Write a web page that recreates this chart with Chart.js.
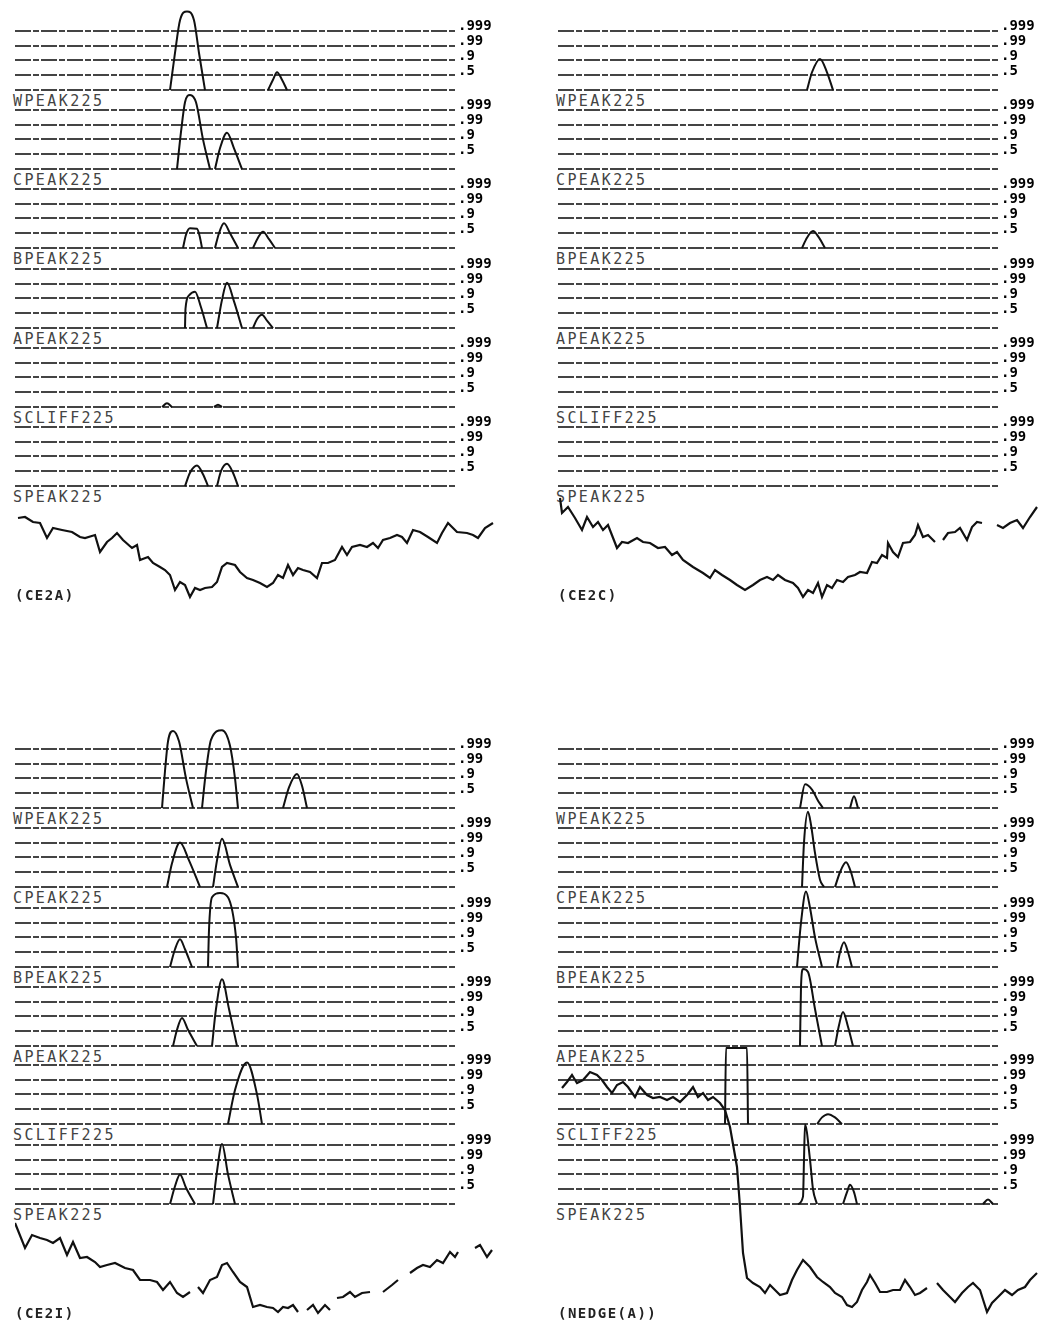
<!DOCTYPE html>
<html lang="en">
<head>
<meta charset="UTF-8">
<title>Peak detector strips</title>
<script src="https://cdn.jsdelivr.net/npm/chart.js"></script>
<style>
    body {
        margin: 0;
        width: 1041px;
        height: 1322px;
        overflow: hidden;
        position: relative;
        background: #fff;
        font-family: 'DejaVu Sans Mono', monospace;
    }
    canvas { position: absolute; }
    .strip-label {
        position: absolute;
        font-size: 15px;
        line-height: 1;
        letter-spacing: 2.4px;
        color: #444;
    }
    .panel-label {
        position: absolute;
        font-size: 14px;
        line-height: 1;
        font-weight: bold;
        letter-spacing: 1.5px;
        color: #222;
    }
</style>
</head>
<body>
<script>
// probability levels of the strip lines, baseline first
const probTicks = ['', '.5', '.9', '.99', '.999'];
const stripNames = ['WPEAK225', 'CPEAK225', 'BPEAK225', 'APEAK225', 'SCLIFF225', 'SPEAK225'];
const panelTitles = ['(CE2A)', '(CE2C)', '(CE2I)', '(NEDGE(A))'];

// peaks for each strip: [sample, level] vertices (level 0 = baseline, 4 = .999)
const ce2aPeaks = [
    [[[155,0],[160,2.5],[165,4.7],[172,5.3],[179,4.7],[184,2.5],[190,0]], [[253,0],[258,0.7],[262,1.2],[267,0.7],[272,0]]],
    [[[162,0],[166,2.5],[170,4.5],[175,5.0],[181,4.5],[188,2.0],[195,0]], [[200,0],[205,1.4],[212,2.45],[219,1.4],[227,0]]],
    [[[168,0],[171,0.9],[175,1.33],[182,1.3],[185,0.7],[187,0]], [[200,0],[204,1.0],[209,1.67],[215,1.0],[223,0]], [[238,0],[243,0.7],[248,1.1],[254,0.6],[260,0]]],
    [[[170,0],[170.5,1.3],[174,2.2],[180,2.45],[186,1.4],[192,0]], [[202,0],[207,1.9],[212,3.05],[219,1.8],[227,0]], [[238,0],[242,0.6],[247,0.9],[252,0.5],[258,0]]],
    [[[147,0],[152,0.25],[157,0]], [[199,0],[203,0.15],[207,0]]],
    [[[170,0],[175,0.9],[182,1.38],[188,0.8],[193,0]], [[202,0],[206,1.0],[212,1.5],[218,0.9],[223,0]]]
];
const ce2cPeaks = [
    [[[249,0],[254,1.2],[262,2.1],[269,1.2],[275,0]]],
    [],
    [[[244,0],[249,0.7],[255,1.15],[261,0.7],[267,0]]],
    [],
    [],
    []
];
const ce2iPeaks = [
    [[[147,0],[150,2.5],[153,4.5],[158,5.2],[164,4.5],[171,2.0],[178,0]], [[187,0],[191,2.5],[196,4.6],[207,5.25],[215,4.2],[220,2.0],[223,0]], [[268,0],[274,1.4],[282,2.3],[287,1.5],[292,0]]],
    [[[152,0],[157,1.6],[165,3.0],[174,1.8],[185,0]], [[198,0],[202,1.8],[207,3.25],[215,1.5],[223,0]]],
    [[[155,0],[160,1.2],[165,1.87],[170,1.2],[177,0]], [[193,0],[194,2.5],[197,4.7],[205,5.0],[213,4.7],[221,2.0],[223,0]]],
    [[[158,0],[162,1.1],[167,1.9],[173,1.1],[182,0]], [[197,0],[201,2.5],[207,4.5],[214,2.5],[222,0]]],
    [[[213,0],[220,2.3],[232,4.15],[242,2.0],[247,0]]],
    [[[155,0],[160,1.2],[165,2.0],[171,1.1],[180,0]], [[198,0],[202,2.2],[207,4.05],[213,2.0],[220,0]]]
];
const nedgePeaks = [
    [[[242,0],[247,1.6],[254,1.25],[260,0.5],[265,0]], [[292,0],[296,0.8],[300,0]]],
    [[[244,0],[246,3.0],[250,5.07],[253,4.2],[257,2.3],[262,0.5],[266,0]], [[277,0],[282,1.0],[288,1.67],[293,1.0],[297,0]]],
    [[[239,0],[243,3.0],[248,5.1],[252,4.0],[257,2.0],[264,0]], [[279,0],[282,1.0],[286,1.67],[290,1.0],[294,0]]],
    [[[242,0],[243,4.0],[245,5.2],[250,5.0],[257,2.5],[264,0]], [[277,0],[281,1.4],[285,2.3],[290,1.3],[295,0]]],
    [[[167,0],[168,5.13],[189,5.13],[190,0]], [[259,0],[264,0.45],[270,0.67],[277,0.45],[284,0]]],
    [[[240,0],[245,0.5],[246,3.0],[247,5.35],[252,3.0],[255,1.0],[259,0]], [[285,0],[289,0.8],[292,1.3],[296,0.8],[299,0]], [[425,0],[430,0.3],[435,0]]]
];

// raw edge signal under each panel: [sample, amplitude], null breaks the trace
const ce2aSignal = [[3,87],[10,88],[18,83],[25,82],[32,67],[38,77],[47,75],[57,73],[65,68],[70,67],[80,70],[85,53],[92,63],[97,67],[102,72],[108,65],[117,57],[122,60],[125,45],[133,48],[138,42],[145,38],[150,35],[155,30],[160,15],[165,23],[170,20],[175,8],[180,17],[185,15],[190,17],[197,18],[202,23],[207,38],[212,42],[220,40],[225,33],[232,27],[238,25],[245,22],[252,18],[258,22],[263,30],[268,27],[273,40],[278,30],[283,37],[288,35],[295,33],[302,27],[307,42],[313,42],[320,45],[327,58],[332,50],[337,58],[345,60],[352,58],[358,62],[363,57],[368,65],[375,67],[382,70],[387,68],[392,62],[398,75],[405,73],[413,68],[422,62],[427,72],[433,82],[442,73],[452,72],[458,70],[463,67],[470,77],[478,82]];
const ce2cSignal = [[2,107],[4,92],[10,98],[17,87],[24,75],[29,88],[35,78],[40,83],[45,75],[50,80],[59,57],[64,63],[70,62],[79,67],[85,63],[92,62],[100,57],[107,58],[114,50],[119,53],[125,45],[135,38],[145,32],[152,27],[157,35],[164,30],[172,25],[179,20],[187,15],[195,20],[202,25],[209,28],[215,25],[220,30],[227,25],[235,22],[240,17],[245,8],[250,15],[255,12],[260,22],[264,8],[269,20],[274,17],[279,25],[285,23],[290,28],[297,30],[302,33],[309,32],[314,43],[319,42],[324,50],[329,47],[330,62],[335,53],[340,48],[345,62],[352,63],[357,70],[360,80],[365,68],[370,70],[377,63],[381,null],[385,65],[390,72],[397,73],[402,77],[409,65],[414,78],[419,83],[424,82],[431,null],[439,80],[445,77],[452,82],[459,85],[465,77],[472,88],[479,98]];
const ce2iSignal = [[0,97],[10,72],[17,85],[25,82],[32,80],[38,77],[45,82],[52,65],[58,78],[65,62],[72,63],[80,58],[85,53],[92,55],[100,57],[110,52],[118,50],[125,40],[135,40],[142,38],[148,30],[155,38],[162,27],[168,23],[175,28],[179,null],[183,33],[188,27],[195,40],[202,43],[207,55],[212,57],[218,48],[225,38],[232,33],[238,13],[245,15],[252,13],[258,12],[263,8],[268,13],[273,12],[278,15],[283,8],[287,null],[292,10],[298,15],[303,7],[310,15],[315,10],[318,null],[322,22],[328,23],[335,28],[340,23],[347,27],[355,28],[361,null],[368,28],[377,35],[383,40],[389,null],[395,47],[402,52],[408,55],[415,53],[422,60],[428,57],[435,68],[440,63],[443,68],[451,null],[460,72],[465,75],[472,63],[477,70]];
const nedgeSignal = [[4,232],[9,238],[14,245],[19,237],[25,240],[32,248],[39,245],[44,240],[49,233],[54,227],[59,235],[65,238],[70,233],[77,223],[82,233],[89,225],[95,222],[102,223],[109,220],[115,223],[122,218],[129,225],[135,233],[140,223],[145,227],[150,220],[155,223],[162,217],[167,210],[172,193],[179,153],[182,113],[185,67],[189,42],[195,37],[202,33],[207,27],[212,35],[217,30],[222,25],[229,27],[234,40],[239,50],[245,60],[252,53],[259,43],[265,38],[272,33],[277,27],[284,23],[289,15],[294,13],[299,18],[304,30],[309,38],[312,45],[317,37],[322,28],[329,28],[335,30],[342,30],[347,40],[352,33],[357,25],[362,27],[369,32],[374,null],[379,37],[385,30],[392,23],[397,18],[404,27],[410,33],[415,37],[422,30],[429,8],[434,17],[440,23],[447,30],[454,25],[460,30],[467,33],[472,40],[479,47]];

// layout
const STRIP_W = 442;      // samples spanned by the strip lines
const AXIS_W = 42;        // room for the .999/.99/.9/.5 labels
const STRIP_H = 89;       // canvas height of one strip
const LEVEL_MIN = -0.4, LEVEL_MAX = 5.6;
const BASE_OFF = STRIP_H * LEVEL_MAX / (LEVEL_MAX - LEVEL_MIN);
const SIGNAL_W = 482;

const rows = [
    { baselines: [90, 169, 248, 328, 407, 486], sigTop: 495, sigH: 110, titleTop: 588 },
    { baselines: [808, 887, 967, 1046, 1124, 1204], sigTop: 1060, sigH: 260, titleTop: 1306 }
];
const panels = [
    { x0: 15,  row: 0, peaks: ce2aPeaks, signal: ce2aSignal },
    { x0: 558, row: 0, peaks: ce2cPeaks, signal: ce2cSignal },
    { x0: 15,  row: 1, peaks: ce2iPeaks, signal: ce2iSignal },
    { x0: 558, row: 1, peaks: nedgePeaks, signal: nedgeSignal }
];

function addCanvas(left, top, w, h) {
    const cv = document.createElement('canvas');
    cv.width = w;
    cv.height = h;
    cv.style.left = left + 'px';
    cv.style.top = top + 'px';
    document.body.appendChild(cv);
    return cv;
}

function addText(cls, text, left, top) {
    const d = document.createElement('div');
    d.className = cls;
    d.textContent = text;
    d.style.left = left + 'px';
    d.style.top = top + 'px';
    document.body.appendChild(d);
}

const baseOptions = {
    responsive: false,
    animation: false,
    events: [],
    layout: { padding: 0 },
    plugins: { legend: { display: false }, tooltip: { enabled: false } }
};

function drawStrip(left, top, peaks) {
    const cv = addCanvas(left, top, STRIP_W + AXIS_W, STRIP_H);
    new Chart(cv, {
        type: 'line',
        data: {
            datasets: peaks.map(pk => ({
                data: pk.map(([x, y]) => ({ x, y })),
                borderColor: '#111',
                borderWidth: 2,
                pointRadius: 0,
                cubicInterpolationMode: 'monotone'
            }))
        },
        options: {
            ...baseOptions,
            scales: {
                x: { type: 'linear', min: 0, max: STRIP_W, display: false },
                y: {
                    type: 'linear',
                    position: 'right',
                    min: LEVEL_MIN,
                    max: LEVEL_MAX,
                    afterBuildTicks: s => { s.ticks = probTicks.map((_, i) => ({ value: i })); },
                    afterFit: s => { s.width = AXIS_W; s.paddingTop = 0; s.paddingBottom = 0; },
                    ticks: {
                        callback: v => probTicks[v],
                        color: '#000',
                        font: { family: 'DejaVu Sans Mono', size: 14, weight: 'bold' },
                        padding: 1,
                        labelOffset: -4,
                        autoSkip: false
                    },
                    grid: { color: '#444', lineWidth: 2, drawTicks: false },
                    border: { display: false, dash: [16, 2, 6, 2] }
                }
            }
        }
    });
}

function drawSignal(left, top, h, signal) {
    const cv = addCanvas(left, top, SIGNAL_W, h);
    new Chart(cv, {
        type: 'line',
        data: {
            datasets: [{
                data: signal.map(([x, y]) => ({ x, y })),
                borderColor: '#111',
                borderWidth: 2.2,
                pointRadius: 0,
                tension: 0,
                spanGaps: false
            }]
        },
        options: {
            ...baseOptions,
            scales: {
                x: { type: 'linear', min: 0, max: SIGNAL_W, display: false },
                y: { type: 'linear', min: 0, max: h, display: false }
            }
        }
    });
}

panels.forEach((p, pi) => {
    const row = rows[p.row];
    row.baselines.forEach((b, k) => {
        addText('strip-label', stripNames[k], p.x0 - 2, b + 4);
        drawStrip(p.x0, Math.round(b - BASE_OFF), p.peaks[k]);
    });
    drawSignal(p.x0, row.sigTop, row.sigH, p.signal);
    addText('panel-label', panelTitles[pi], p.x0, row.titleTop);
});
</script>
</body>
</html>
